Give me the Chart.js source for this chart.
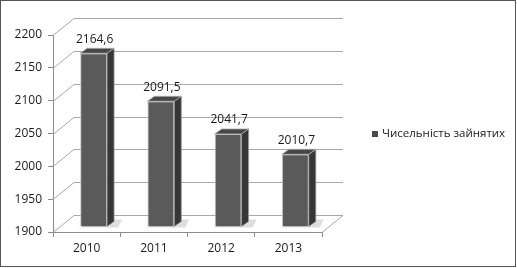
<!DOCTYPE html>
<html>
<head>
<meta charset="utf-8">
<script src="https://cdn.jsdelivr.net/npm/chart.js@4/dist/chart.umd.min.js"></script>
<style>
  html, body { margin: 0; padding: 0; background: #fff; }
  canvas { display: block; }
</style>
</head>
<body>
<canvas id="c" width="517" height="268"></canvas>
<script>
const categories = ['2010', '2011', '2012', '2013'];
const values = [2164.6, 2091.5, 2041.7, 2010.7];
const valueLabels = ['2164,6', '2091,5', '2041,7', '2010,7'];
const seriesName = 'Чисельність зайнятих';
const yMin = 1900, yMax = 2200, yStep = 50;

const FONT = '"Open Sans", "DejaVu Sans", sans-serif';
const WALL_DX = 21, WALL_DY = -17;   // depth of the plot box
const BAR_DX = 7, BAR_DY = -5;       // bar front offset into the box
const BAR_DEPTH_X = 7, BAR_DEPTH_Y = -5;

const threeD = {
  id: 'threeD',
  beforeDatasetsDraw(chart) {
    const ctx = chart.ctx, a = chart.chartArea, ys = chart.scales.y;
    ctx.save();
    ctx.strokeStyle = '#a8a8a8';
    ctx.lineWidth = 1;
    ys.ticks.forEach(t => {
      const y = Math.round(ys.getPixelForValue(t.value)) + 0.5;
      ctx.beginPath();
      ctx.moveTo(a.left + WALL_DX, y + WALL_DY);
      ctx.lineTo(a.right + WALL_DX, y + WALL_DY);
      ctx.stroke();
      ctx.beginPath();
      ctx.moveTo(a.left, y);
      ctx.lineTo(a.left + WALL_DX, y + WALL_DY);
      ctx.stroke();
    });
    const yb = Math.round(a.bottom) + 0.5;
    ctx.beginPath();
    ctx.moveTo(a.right, yb);
    ctx.lineTo(a.right + WALL_DX, yb + WALL_DY);
    ctx.stroke();
    // floor shadows under bars
    const meta = chart.getDatasetMeta(0);
    ctx.fillStyle = '#dedede';
    meta.data.forEach(bar => {
      const w = bar.width, x0 = bar.x + BAR_DX - w / 2, b = bar.base + BAR_DY;
      ctx.beginPath();
      ctx.moveTo(x0 - 2, b + 1);
      ctx.lineTo(x0 + w + BAR_DEPTH_X + 4, b + 1);
      ctx.lineTo(x0 + w + BAR_DEPTH_X + 8, b + BAR_DEPTH_Y - 2);
      ctx.lineTo(x0 + w, b + BAR_DEPTH_Y - 2);
      ctx.closePath();
      ctx.fill();
    });
    ctx.restore();
    ctx.save();
    ctx.translate(BAR_DX, BAR_DY);
  },
  afterDatasetsDraw(chart) {
    const ctx = chart.ctx;
    ctx.restore();
    const meta = chart.getDatasetMeta(0);
    ctx.save();
    meta.data.forEach((bar, i) => {
      const w = bar.width;
      const xl = bar.x + BAR_DX - w / 2, xr = bar.x + BAR_DX + w / 2;
      const yt = bar.y + BAR_DY, yb = bar.base + BAR_DY;
      // side face
      ctx.fillStyle = '#363636';
      ctx.beginPath();
      ctx.moveTo(xr, yt);
      ctx.lineTo(xr + BAR_DEPTH_X, yt + BAR_DEPTH_Y);
      ctx.lineTo(xr + BAR_DEPTH_X, yb + BAR_DEPTH_Y);
      ctx.lineTo(xr, yb);
      ctx.closePath();
      ctx.fill();
      ctx.strokeStyle = '#9a9a9a';
      ctx.lineWidth = 0.8;
      ctx.stroke();
      // top face
      ctx.fillStyle = '#474747';
      ctx.beginPath();
      ctx.moveTo(xl, yt);
      ctx.lineTo(xl + BAR_DEPTH_X, yt + BAR_DEPTH_Y);
      ctx.lineTo(xr + BAR_DEPTH_X, yt + BAR_DEPTH_Y);
      ctx.lineTo(xr, yt);
      ctx.closePath();
      ctx.fill();
      ctx.strokeStyle = '#b0b0b0';
      ctx.stroke();
      // value label
      ctx.fillStyle = '#1a1a1a';
      ctx.font = '12px ' + FONT;
      ctx.textAlign = 'center';
      ctx.textBaseline = 'middle';
      ctx.fillText(valueLabels[i], bar.x + BAR_DX + 1, yt - 14);
    });
    ctx.restore();
  },
  afterDraw(chart) {
    const ctx = chart.ctx;
    ctx.save();
    // legend
    const ds = chart.data.datasets[0];
    ctx.fillStyle = '#4a4a4a';
    ctx.fillRect(372, 131, 6, 6);
    ctx.fillStyle = '#1a1a1a';
    ctx.font = '11.5px ' + FONT;
    ctx.textAlign = 'left';
    ctx.textBaseline = 'middle';
    ctx.fillText(ds.label, 382, 134);
    // outer border
    ctx.strokeStyle = '#555';
    ctx.lineWidth = 1;
    ctx.strokeRect(0.5, 0.5, 515, 266);
    ctx.restore();
  }
};

new Chart(document.getElementById('c'), {
  type: 'bar',
  data: {
    labels: categories,
    datasets: [{
      label: seriesName,
      data: values,
      base: yMin,
      backgroundColor: '#5a5a5a',
      borderColor: '#c4c4c4',
      borderWidth: 1,
      categoryPercentage: 1,
      barPercentage: 0.4,
      clip: false
    }]
  },
  options: {
    responsive: false,
    animation: false,
    devicePixelRatio: 1,
    layout: { padding: { left: 0, top: 35, right: 195, bottom: 0 } },
    plugins: { legend: { display: false }, tooltip: { enabled: false } },
    scales: {
      x: {
        offset: true,
        grid: { display: true, drawOnChartArea: false, drawTicks: true, tickLength: 5, color: '#8c8c8c', offset: true },
        border: { display: true, color: '#8c8c8c' },
        ticks: { color: '#1a1a1a', padding: 4, font: { family: FONT, size: 12 } },
        afterFit(s) { s.height = 36; }
      },
      y: {
        min: yMin, max: yMax,
        grid: { display: true, drawOnChartArea: false, drawTicks: true, tickLength: 5, color: '#8c8c8c' },
        border: { display: true, color: '#8c8c8c' },
        ticks: { stepSize: yStep, color: '#1a1a1a', padding: 6, font: { family: FONT, size: 12 }, callback: v => String(v) },
        afterFit(s) { s.width = 53; }
      }
    }
  },
  plugins: [threeD]
});
</script>
</body>
</html>
